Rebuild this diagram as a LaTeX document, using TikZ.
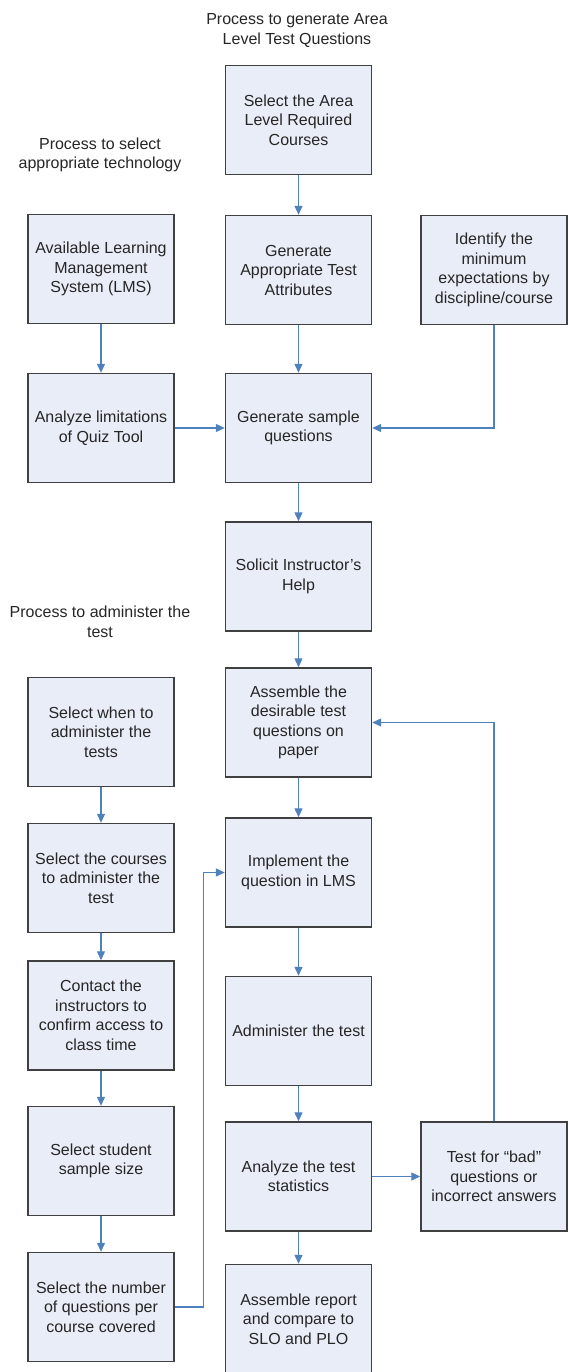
\documentclass[tikz,border=0pt]{standalone}
\usepackage{fontspec}
\setmainfont{Liberation Sans}
\usepackage{tikz}
\usetikzlibrary{arrows.meta}
\definecolor{boxfill}  {RGB}{233,237,247}
\definecolor{boxline}  {RGB}{ 64, 64, 64}
\definecolor{flowblue} {RGB}{ 79,129,189}
\definecolor{inktext}  {RGB}{ 38, 38, 38}
\tikzset{
  box/.style={draw=boxline, fill=boxfill, line width=1.4pt, minimum width=146pt,
              minimum height=109pt, inner sep=2pt, align=center, text=inktext,
              font=\fontsize{16}{19.5}\selectfont},
  heading/.style={align=center, text=inktext, font=\fontsize{16}{19.5}\selectfont},
  flow/.style={draw=flowblue, line width=1.2pt, -{Triangle[length=9pt,width=8pt]}}
}

\begin{document}
\begin{tikzpicture}[x=1pt,y=-1pt]
\useasboundingbox (0,0) rectangle (567,1372);
% headings
\node[heading] (T1) at (297,30.5) {Process to generate Area\\Level Test Questions};
\node[heading] (T2) at (100,155) {Process to select\\appropriate technology};
\node[heading] (T3) at (100,622) {Process to administer the\\test};
% middle column
\node[box] (A1) at (298.5,120)    {Select the Area\\Level Required\\Courses};
\node[box] (A2) at (298.5,270)    {Generate\\Appropriate Test\\Attributes};
\node[box] (A3) at (298.5,428)    {Generate sample\\questions};
\node[box] (A4) at (298.5,576.5)  {Solicit Instructor's\\Help};
\node[box] (A5) at (298.5,722.5)  {Assemble the\\desirable test\\questions on\\paper};
\node[box] (A6) at (298.5,872.5)  {Implement the\\question in LMS};
\node[box] (A7) at (298.5,1031)   {Administer the test};
\node[box] (A8) at (298.5,1176.5) {Analyze the test\\statistics};
\node[box] (A9) at (298.5,1319)   {Assemble report\\and compare  to\\SLO and PLO};
% left column
\node[box] (L1) at (101,269)    {Available Learning\\Management\\System (LMS)};
\node[box] (L2) at (101,428)    {Analyze limitations\\of Quiz Tool};
\node[box] (L3) at (101,732)    {Select when to\\administer the\\tests};
\node[box] (L4) at (101,878)    {Select the courses\\to administer the\\test};
\node[box] (L5) at (101,1015.5) {Contact the\\instructors to\\confirm access to\\class time};
\node[box] (L6) at (101,1161)   {Select student\\sample size};
\node[box] (L7) at (101,1307)   {Select the number\\of questions per\\course covered};
% right column
\node[box] (R1) at (494,270)    {Identify the\\minimum\\expectations by\\discipline/course};
\node[box] (R2) at (494,1176.5) {Test for “bad”\\questions or\\incorrect answers};
% connectors
\draw[flow] (A1) -- (A2);
\draw[flow] (A2) -- (A3);
\draw[flow] (A3) -- (A4);
\draw[flow] (A4) -- (A5);
\draw[flow] (A5) -- (A6);
\draw[flow] (A6) -- (A7);
\draw[flow] (A7) -- (A8);
\draw[flow] (A8) -- (A9);
\draw[flow] (L1) -- (L2);
\draw[flow] (L2) -- (A3);
\draw[flow] (R1.south) |- (A3.east);
\draw[flow] (L3) -- (L4);
\draw[flow] (L4) -- (L5);
\draw[flow] (L5) -- (L6);
\draw[flow] (L6) -- (L7);
\draw[flow] (L7.east) -- ++(29,0) |- (A6.west);
\draw[flow] (A8) -- (R2);
\draw[flow] (R2.north) |- (A5.east);
\end{tikzpicture}
\end{document}
